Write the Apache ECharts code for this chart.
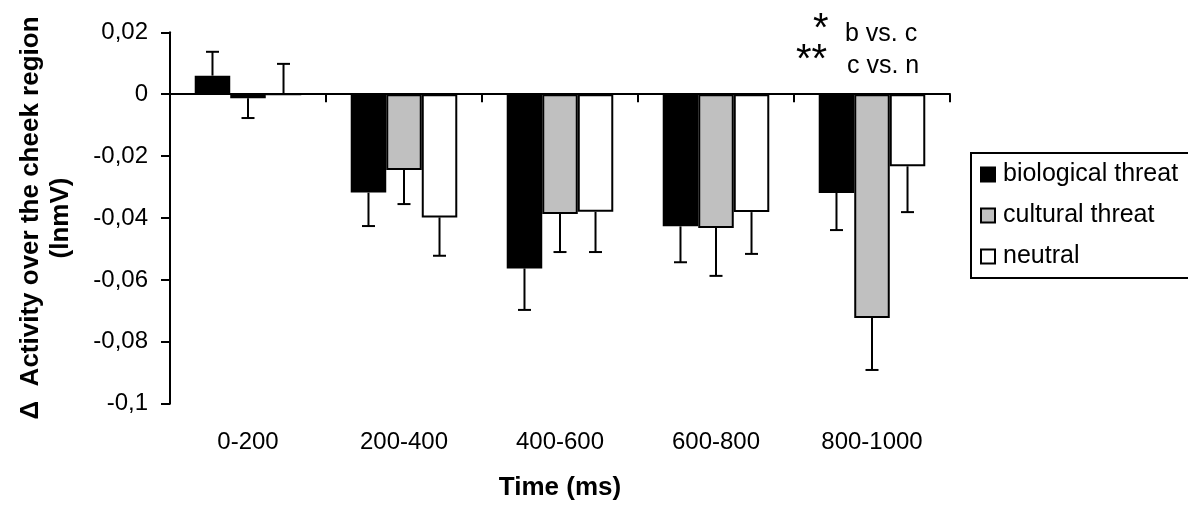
<!DOCTYPE html>
<html>
<head>
<meta charset="utf-8">
<script src="https://cdn.jsdelivr.net/npm/echarts@6/dist/echarts.min.js"></script>
<style>
  html, body { margin: 0; padding: 0; background: #fff; }
  #chart { width: 1188px; height: 508px; }
</style>
</head>
<body>
<div id="chart"></div>
<script>
const categories = ['0-200', '200-400', '400-600', '600-800', '800-1000'];
const seriesNames = ['biological threat', 'cultural threat', 'neutral'];
const biological = [0.0060, -0.0318, -0.0563, -0.0427, -0.0319];
const cultural = [-0.0013, -0.0245, -0.0387, -0.0432, -0.0723];
const neutral = [0.0000, -0.0398, -0.0380, -0.0381, -0.0233];
const biologicalErr = [0.0077, 0.0108, 0.0134, 0.0116, 0.0120];
const culturalErr = [0.0064, 0.0110, 0.0123, 0.0155, 0.0168];
const neutralErr = [0.0098, 0.0124, 0.0130, 0.0135, 0.0148];
const yMin = -0.1, yMax = 0.02, yStep = 0.02;
const annotations = ['*', 'b vs. c', '**', 'c vs. n'];

const FONT = '"Liberation Sans", Arial, sans-serif';
const CAT_GAP = 0.317;
const colors = ['#000000', '#c0c0c0', '#ffffff'];

function fmt(v) {
  const r = parseFloat(v.toFixed(3));
  return String(r).replace('.', ',');
}

function errSeries(pos, vals, errs) {
  return {
    type: 'custom',
    xAxisIndex: 0,
    silent: true,
    z: 5,
    data: vals.map((v, i) => [i, v, errs[i]]),
    encode: { x: 0, y: 1 },
    renderItem: function (params, api) {
      const i = api.value(0), v = api.value(1), e = api.value(2);
      const end = v >= 0 ? v + e : v - e;
      const base = api.coord([i, v]);
      const tip = api.coord([i, end]);
      const band = api.size([1, 0])[0];
      const bw = band * (1 - CAT_GAP) / 3;
      const x = base[0] + (pos - 1) * bw;
      const cap = 6.5;
      return {
        type: 'group',
        children: [
          { type: 'line', shape: { x1: x, y1: base[1], x2: x, y2: tip[1] }, style: { stroke: '#000', lineWidth: 2 } },
          { type: 'line', shape: { x1: x - cap, y1: tip[1], x2: x + cap, y2: tip[1] }, style: { stroke: '#000', lineWidth: 2 } }
        ]
      };
    }
  };
}

function barSeries(idx, vals) {
  return {
    name: seriesNames[idx],
    type: 'bar',
    xAxisIndex: 0,
    data: vals,
    barGap: '0%',
    barCategoryGap: (CAT_GAP * 100) + '%',
    itemStyle: { color: colors[idx], borderColor: '#000', borderWidth: 2 },
    z: 2
  };
}

const chart = echarts.init(document.getElementById('chart'), null, { renderer: 'canvas' });
chart.setOption({
  animation: false,
  backgroundColor: '#fff',
  textStyle: { fontFamily: FONT },
  grid: { left: 170, right: 238, top: 32.3, bottom: 104.3, containLabel: false },
  legend: {
    orient: 'vertical',
    left: 971,
    top: 153,
    data: seriesNames,
    icon: 'rect',
    itemWidth: 14,
    itemHeight: 14,
    itemGap: 14,
    padding: [8, 24, 8, 9],
    borderColor: '#000',
    borderWidth: 2,
    textStyle: { fontFamily: FONT, fontSize: 25, color: '#000', lineHeight: 27, padding: [0, 0, 0, 3] }
  },
  xAxis: [
    {
      type: 'category',
      data: categories,
      axisLine: { onZero: true, lineStyle: { color: '#000', width: 2 } },
      axisTick: { show: true, length: 8, lineStyle: { color: '#000', width: 2 } },
      axisLabel: { show: false },
      splitLine: { show: false }
    },
    {
      type: 'category',
      data: categories,
      position: 'bottom',
      axisLine: { show: false, onZero: false },
      axisTick: { show: false },
      axisLabel: { show: true, margin: 27, fontSize: 24, color: '#000', fontFamily: FONT },
      name: 'Time (ms)',
      nameLocation: 'middle',
      nameGap: 71,
      nameTextStyle: { fontFamily: FONT, fontSize: 26, fontWeight: 'bold', color: '#000' }
    }
  ],
  yAxis: {
    type: 'value',
    min: yMin,
    max: yMax,
    interval: yStep,
    axisLine: { show: true, lineStyle: { color: '#000', width: 2 } },
    axisTick: { show: true, length: 9, lineStyle: { color: '#000', width: 2 } },
    axisLabel: { margin: 22, fontSize: 24, color: '#000', fontFamily: FONT, formatter: fmt },
    splitLine: { show: false },
    name: '\u0394  Activity over the cheek region\n(lnmV)',
    nameLocation: 'middle',
    nameGap: 94,
    nameTextStyle: { fontFamily: FONT, fontSize: 26, fontWeight: 'bold', color: '#000', lineHeight: 30 }
  },
  series: [
    barSeries(0, biological),
    barSeries(1, cultural),
    barSeries(2, neutral),
    errSeries(0, biological, biologicalErr),
    errSeries(1, cultural, culturalErr),
    errSeries(2, neutral, neutralErr)
  ],
  graphic: [
    { type: 'text', left: 813, top: 10, style: { text: annotations[0], font: '40px ' + FONT, fill: '#000' } },
    { type: 'text', left: 845, top: 22, style: { text: annotations[1], font: '25px ' + FONT, fill: '#000' } },
    { type: 'text', left: 796, top: 41, style: { text: annotations[2], font: '40px ' + FONT, fill: '#000' } },
    { type: 'text', left: 847, top: 54, style: { text: annotations[3], font: '25px ' + FONT, fill: '#000' } }
  ]
});
</script>
</body>
</html>
